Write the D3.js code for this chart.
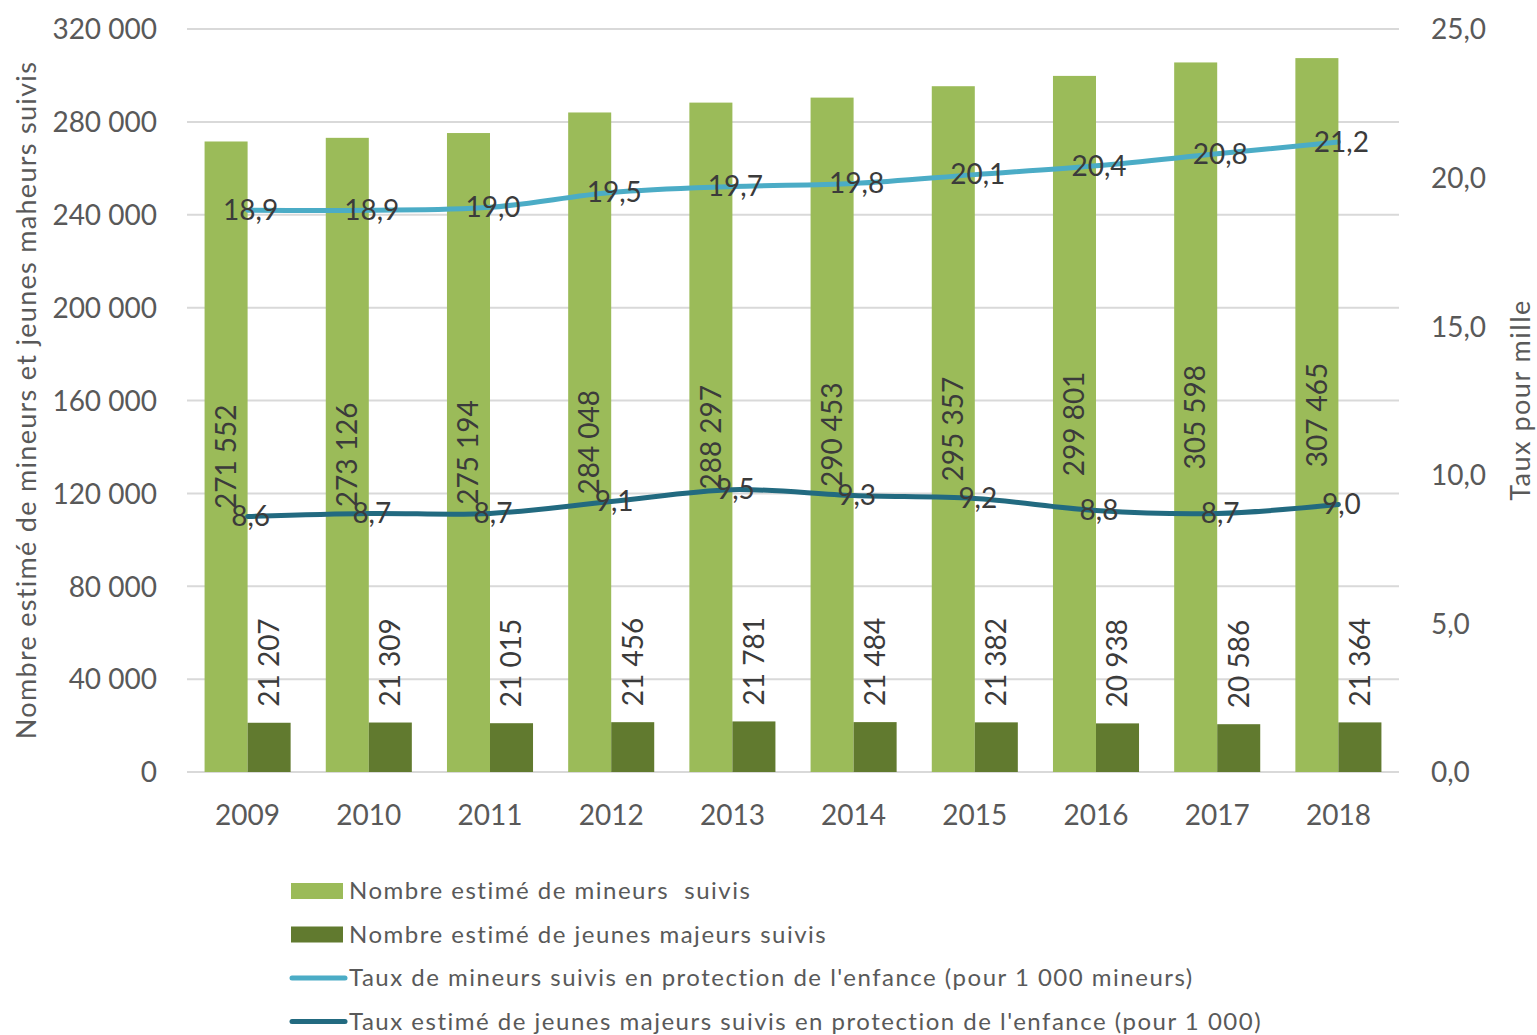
<!DOCTYPE html>
<html>
<head>
<meta charset="utf-8">
<script src="https://cdn.jsdelivr.net/npm/d3@7"></script>
<style>
  body { margin: 0; background: #fff; }
  svg { font-family: Lato, "Open Sans", sans-serif; }
</style>
</head>
<body>
<svg id="chart" width="1537" height="1035"></svg>
<script>
// data
var years = ["2009", "2010", "2011", "2012", "2013", "2014", "2015", "2016", "2017", "2018"];
var mineurs = [271552, 273126, 275194, 284048, 288297, 290453, 295357, 299801, 305598, 307465];
var majeurs = [21207, 21309, 21015, 21456, 21781, 21484, 21382, 20938, 20586, 21364];
var tauxMineurs = [18.9, 18.9, 19.0, 19.5, 19.7, 19.8, 20.1, 20.4, 20.8, 21.2];
var tauxMajeurs = [8.6, 8.7, 8.7, 9.1, 9.5, 9.3, 9.2, 8.8, 8.7, 9.0];
var leftTicks = [0, 40000, 80000, 120000, 160000, 200000, 240000, 280000, 320000];
var rightTicks = [0, 5, 10, 15, 20, 25];
var legendLabels = [
  "Nombre estimé de mineurs  suivis",
  "Nombre estimé de jeunes majeurs suivis",
  "Taux de mineurs suivis en protection de l'enfance (pour 1 000 mineurs)",
  "Taux estimé de jeunes majeurs suivis en protection de l'enfance (pour 1 000)"
];

var cLight = "#9bbb59", cDark = "#617a2f", cBlue = "#4bacc6", cTeal = "#226a80";
var txt = "#595959", lab = "#3b3b3b";

var svg = d3.select("#chart");
var pL = 187, pR = 1399, pT = 29, pB = 772;

var x = d3.scaleBand().domain(years).range([pL, pR]).paddingInner(0.29).paddingOuter(0.145);
var xc = d3.scaleBand().domain(years).range([pL, pR]);
var y = d3.scaleLinear().domain([0, 320000]).range([pB, pT]);
var y2 = d3.scaleLinear().domain([0, 25]).range([pB, pT]);

var fmtN = function(v) { return d3.format(",")(v).replace(/,/g, " "); };
var fmtR = function(v) { return d3.format(".1f")(v).replace(".", ","); };

// gridlines
svg.append("g").selectAll("line").data(leftTicks).enter().append("line")
  .attr("x1", pL).attr("x2", pR)
  .attr("y1", function(d) { return y(d); }).attr("y2", function(d) { return y(d); })
  .attr("stroke", "#d9d9d9").attr("stroke-width", 2);

// left axis
var ax = svg.append("g").attr("transform", "translate(" + (pL - 30) + ",0)")
  .call(d3.axisLeft(y).tickValues(leftTicks).tickSize(0).tickPadding(0).tickFormat(fmtN));
ax.select(".domain").remove();
ax.selectAll("text").attr("fill", txt).style("font-size", "28px").style("font-family", "Lato").attr("dy", "0.35em");

// right axis
var ax2 = svg.append("g").attr("transform", "translate(" + (pR + 32) + ",0)")
  .call(d3.axisRight(y2).tickValues(rightTicks).tickSize(0).tickPadding(0).tickFormat(fmtR));
ax2.select(".domain").remove();
ax2.selectAll("text").attr("fill", txt).style("font-size", "28px").style("font-family", "Lato").attr("dy", "0.35em");

// x axis
var ax3 = svg.append("g").attr("transform", "translate(0," + (pB + 28) + ")")
  .call(d3.axisBottom(xc).tickSize(0).tickPadding(0));
ax3.select(".domain").remove();
ax3.selectAll("text").attr("fill", txt).style("font-size", "28px").style("font-family", "Lato").attr("dy", "0.9em");

// axis titles
svg.append("text").attr("transform", "translate(36,400) rotate(-90)")
  .attr("text-anchor", "middle").attr("fill", txt).style("font-size", "27px").style("letter-spacing", "1.3px")
  .text("Nombre estimé de mineurs et jeunes maheurs suivis");
svg.append("text").attr("transform", "translate(1530,400) rotate(-90)")
  .attr("text-anchor", "middle").attr("fill", txt).style("font-size", "27px").style("letter-spacing", "1.5px")
  .text("Taux pour mille");

var bw = x.bandwidth() / 2;

// bars
svg.append("g").selectAll("rect").data(mineurs).enter().append("rect")
  .attr("x", function(d, i) { return x(years[i]); })
  .attr("y", function(d) { return y(d); })
  .attr("width", bw).attr("height", function(d) { return pB - y(d); })
  .attr("fill", cLight);
svg.append("g").selectAll("rect").data(majeurs).enter().append("rect")
  .attr("x", function(d, i) { return x(years[i]) + bw; })
  .attr("y", function(d) { return y(d); })
  .attr("width", bw).attr("height", function(d) { return pB - y(d); })
  .attr("fill", cDark);

// bar labels
svg.append("g").selectAll("text").data(mineurs).enter().append("text")
  .attr("transform", function(d, i) {
    return "translate(" + (x(years[i]) + bw / 2) + "," + ((y(d) + pB) / 2) + ") rotate(-90)";
  })
  .attr("text-anchor", "middle").attr("dy", "0.35em").attr("fill", lab)
  .style("font-size", "28px").text(fmtN);
svg.append("g").selectAll("text").data(majeurs).enter().append("text")
  .attr("transform", function(d, i) {
    return "translate(" + (x(years[i]) + bw * 1.5) + "," + (y(d) - 16) + ") rotate(-90)";
  })
  .attr("text-anchor", "start").attr("dy", "0.35em").attr("fill", lab)
  .style("font-size", "28px").text(fmtN);

// lines
var cx = function(i) { return xc(years[i]) + xc.bandwidth() / 2; };
var line = d3.line().curve(d3.curveCatmullRom.alpha(0.5))
  .x(function(d, i) { return cx(i); })
  .y(function(d) { return y2(d); });
svg.append("path").datum(tauxMineurs).attr("d", line)
  .attr("fill", "none").attr("stroke", cBlue).attr("stroke-width", 5).attr("stroke-linecap", "round");
svg.append("path").datum(tauxMajeurs).attr("d", line)
  .attr("fill", "none").attr("stroke", cTeal).attr("stroke-width", 5).attr("stroke-linecap", "round");

[tauxMineurs, tauxMajeurs].forEach(function(s) {
  svg.append("g").selectAll("text").data(s).enter().append("text")
    .attr("x", function(d, i) { return cx(i) + 3; })
    .attr("y", function(d) { return y2(d); })
    .attr("text-anchor", "middle").attr("dy", "0.35em").attr("fill", lab)
    .style("font-size", "28px").text(fmtR);
});

// legend
var leg = svg.append("g");
legendLabels.forEach(function(t, i) {
  var ly = 891 + i * 43.5;
  if (i < 2) {
    leg.append("rect").attr("x", 291).attr("y", ly - 8).attr("width", 52).attr("height", 16)
      .attr("fill", i === 0 ? cLight : cDark);
  } else {
    leg.append("line").attr("x1", 292).attr("x2", 345).attr("y1", ly).attr("y2", ly)
      .attr("stroke", i === 2 ? cBlue : cTeal).attr("stroke-width", 5).attr("stroke-linecap", "round");
  }
  leg.append("text").attr("x", 349).attr("y", ly).attr("dy", "0.35em")
    .attr("fill", txt).style("font-size", "24px").style("letter-spacing", "1.5px")
    .style("white-space", "pre").text(t);
});
</script>
</body>
</html>
